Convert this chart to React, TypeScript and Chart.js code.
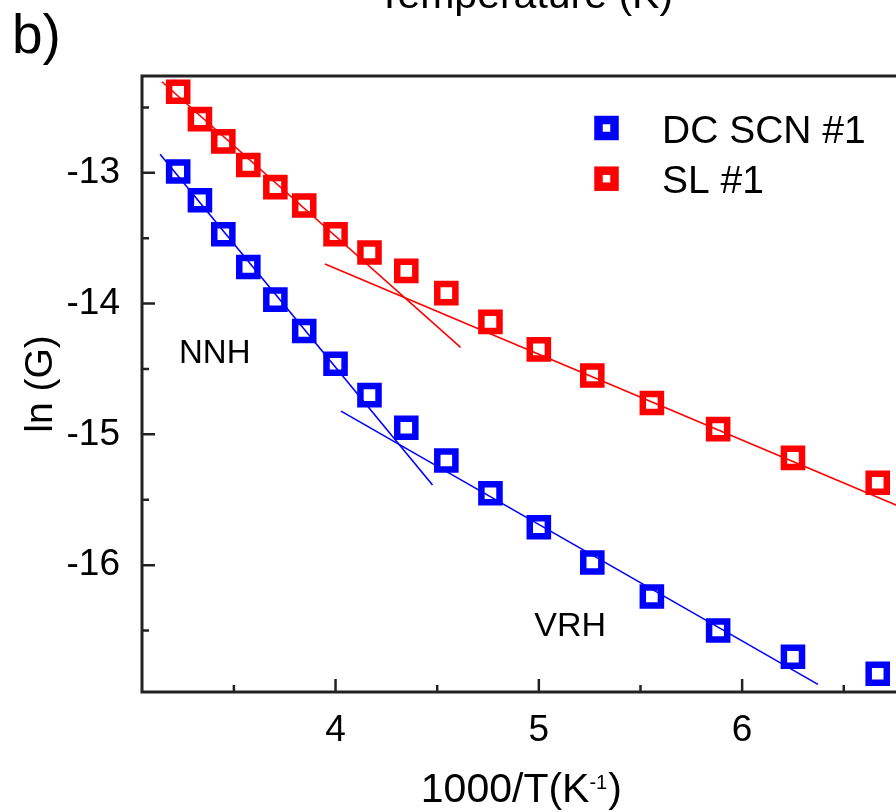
import React, { useEffect, useRef } from 'react';
import { Chart, registerables } from 'chart.js';

Chart.register(...registerables);

const FONT = '"Liberation Sans", Arial, Helvetica, sans-serif';

// 1000/T (K^-1) for T = 310 ... 150 K
const invT = [3.226, 3.333, 3.448, 3.571, 3.704, 3.846, 4.0, 4.167, 4.348, 4.545, 4.762, 5.0, 5.263, 5.556, 5.882, 6.25, 6.667];
// ln(G)
const dcScn = [-12.99, -13.21, -13.47, -13.72, -13.97, -14.21, -14.46, -14.7, -14.95, -15.2, -15.45, -15.71, -15.98, -16.24, -16.5, -16.7, -16.83];
const sl = [-12.38, -12.59, -12.76, -12.94, -13.11, -13.25, -13.47, -13.61, -13.75, -13.92, -14.14, -14.35, -14.55, -14.76, -14.96, -15.18, -15.37];

// fitted lines (NNH high-T, VRH low-T)
const slNnhX = [3.146, 4.615];
const slNnhY = [-12.304, -14.335];
const slVrhX = [3.948, 6.78];
const slVrhY = [-13.698, -15.556];
const dcNnhX = [3.137, 4.477];
const dcNnhY = [-12.859, -15.388];
const dcVrhX = [4.027, 6.373];
const dcVrhY = [-14.822, -16.912];

const seriesNames = ['DC SCN #1', 'SL #1'];
const seriesColors = ['#0000ff', '#ff0000'];

const xMin = 3.048;
const xMax = 6.78;
const yMin = -16.97;
const yMax = -12.26;
const xTickStep = 1;
const yTickStep = 1;
const minorStep = 0.5;

const regionLabels = [
  { text: 'NNH', x: 3.23, y: -14.453, size: 33 },
  { text: 'VRH', x: 4.978, y: -16.543, size: 34 },
];

const pts = (xs: number[], ys: number[]) => xs.map((x, i) => ({ x, y: ys[i] }));

const decorPlugin = {
  id: 'decor',
  afterDraw(chart: any) {
    const ctx = chart.ctx as CanvasRenderingContext2D;
    const { left, right, top, bottom } = chart.chartArea;
    const xs = chart.scales.x;
    const ys = chart.scales.y;
    ctx.save();
    // frame
    ctx.strokeStyle = '#222';
    ctx.lineWidth = 3;
    ctx.strokeRect(left, top, right - left, bottom - top);
    // inward ticks
    ctx.lineWidth = 2.5;
    ctx.beginPath();
    for (let k = Math.ceil(xMin / minorStep); k * minorStep <= xMax; k++) {
      const v = k * minorStep;
      const px = xs.getPixelForValue(v);
      const len = Math.abs(v - Math.round(v)) < 1e-9 ? 13 : 7;
      ctx.moveTo(px, bottom);
      ctx.lineTo(px, bottom - len);
    }
    for (let k = Math.ceil(yMin / minorStep); k * minorStep <= yMax; k++) {
      const v = k * minorStep;
      const py = ys.getPixelForValue(v);
      const len = Math.abs(v - Math.round(v)) < 1e-9 ? 13 : 7;
      ctx.moveTo(left, py);
      ctx.lineTo(left + len, py);
    }
    ctx.stroke();

    ctx.fillStyle = '#000';
    ctx.textBaseline = 'alphabetic';
    // region labels
    ctx.textAlign = 'left';
    for (const r of regionLabels) {
      ctx.font = `${r.size}px ${FONT}`;
      ctx.fillText(r.text, xs.getPixelForValue(r.x), ys.getPixelForValue(r.y));
    }
    // panel label
    ctx.font = `55px ${FONT}`;
    ctx.fillText('b)', 12, 53);
    // top text (cut off in the original figure)
    ctx.textAlign = 'center';
    ctx.font = `41px ${FONT}`;
    ctx.fillText('Temperature (K)', 525, 8);

    // x axis title with superscript
    const cx = (left + right) / 2;
    ctx.textAlign = 'left';
    const mainA = '1000/T(K';
    const sup = '-1';
    const mainB = ')';
    ctx.font = `41px ${FONT}`;
    const wA = ctx.measureText(mainA).width;
    const wB = ctx.measureText(mainB).width;
    ctx.font = `20px ${FONT}`;
    const wS = ctx.measureText(sup).width;
    let x0 = cx - (wA + wS + wB + 1) / 2;
    ctx.font = `41px ${FONT}`;
    ctx.fillText(mainA, x0, 802);
    x0 += wA;
    ctx.font = `20px ${FONT}`;
    ctx.fillText(sup, x0, 789);
    x0 += wS + 1;
    ctx.font = `41px ${FONT}`;
    ctx.fillText(mainB, x0, 802);

    // legend
    const legendY = [128, 178.7];
    for (let i = 0; i < 2; i++) {
      ctx.strokeStyle = seriesColors[i];
      ctx.lineWidth = 8.5;
      ctx.strokeRect(606.5 - 8, legendY[i] - 8, 16, 16);
      ctx.fillStyle = '#000';
      ctx.font = `39px ${FONT}`;
      ctx.textAlign = 'left';
      ctx.fillText(seriesNames[i], 662, legendY[i] + 14.5);
    }
    ctx.restore();
  },
};

export default function App() {
  const ref = useRef<HTMLCanvasElement>(null);
  useEffect(() => {
    const markerDs = (label: string, ys: number[], color: string) => ({
      label,
      data: pts(invT, ys),
      showLine: false,
      pointStyle: 'rect',
      pointRadius: 12.8,
      pointHoverRadius: 12.8,
      borderColor: color,
      pointBorderColor: color,
      backgroundColor: 'rgba(0,0,0,0)',
      pointBackgroundColor: 'rgba(0,0,0,0)',
      borderWidth: 6.5,
      pointBorderWidth: 6.5,
      order: 2,
    });
    const lineDs = (xs: number[], ys: number[], color: string) => ({
      label: '',
      data: pts(xs, ys),
      showLine: true,
      pointRadius: 0,
      pointHoverRadius: 0,
      borderColor: color,
      borderWidth: 1.6,
      backgroundColor: color,
      fill: false,
      order: 1,
    });
    const chart = new Chart(ref.current!, {
      type: 'scatter',
      data: {
        datasets: [
          markerDs(seriesNames[0], dcScn, seriesColors[0]),
          markerDs(seriesNames[1], sl, seriesColors[1]),
          lineDs(dcNnhX, dcNnhY, seriesColors[0]),
          lineDs(dcVrhX, dcVrhY, seriesColors[0]),
          lineDs(slNnhX, slNnhY, seriesColors[1]),
          lineDs(slVrhX, slVrhY, seriesColors[1]),
        ] as any,
      },
      options: {
        animation: false,
        responsive: false,
        devicePixelRatio: 1,
        layout: { padding: { top: 76, right: 14, left: 0, bottom: 0 } },
        plugins: {
          legend: { display: false },
          tooltip: { enabled: false },
          title: { display: false },
        },
        scales: {
          x: {
            type: 'linear',
            position: 'bottom',
            min: xMin,
            max: xMax,
            grid: { display: false },
            border: { display: false },
            ticks: {
              stepSize: xTickStep,
              includeBounds: false,
              autoSkip: false,
              maxRotation: 0,
              padding: 9,
              color: '#000',
              font: { family: FONT, size: 37 },
              callback: (v: any) => String(v),
            },
            afterFit: (s: any) => {
              s.height = 120;
            },
          },
          y: {
            type: 'linear',
            position: 'left',
            min: yMin,
            max: yMax,
            grid: { display: false },
            border: { display: false },
            ticks: {
              stepSize: yTickStep,
              includeBounds: false,
              autoSkip: false,
              padding: 14,
              color: '#000',
              font: { family: FONT, size: 37 },
              callback: (v: any) => String(v),
            },
            title: {
              display: true,
              text: 'ln (G)',
              color: '#000',
              font: { family: FONT, size: 39 },
              padding: { top: 18, bottom: 0 },
            },
            afterFit: (s: any) => {
              s.width = 142;
            },
          },
        },
      } as any,
      plugins: [decorPlugin],
    });
    return () => chart.destroy();
  }, []);
  return (
    <div
      style={{
        position: 'absolute',
        left: 0,
        top: 0,
        width: 896,
        height: 812,
        overflow: 'hidden',
        background: '#fff',
      }}
    >
      <canvas ref={ref} width={920} height={812} style={{ display: 'block', width: 920, height: 812 }} />
    </div>
  );
}
